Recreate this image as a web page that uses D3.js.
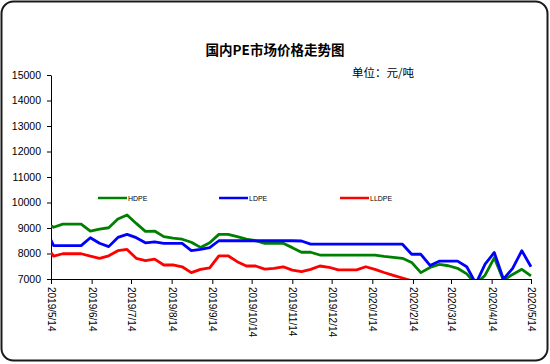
<!DOCTYPE html>
<html><head><meta charset="utf-8">
<script src="https://cdn.jsdelivr.net/npm/d3@7"></script>
<style>body{margin:0;background:#fff}svg{display:block}</style>
</head><body><svg id="c" width="550" height="364"></svg>
<script>
const dates = ["2019-05-14","2019-05-16","2019-05-23","2019-05-30","2019-06-06","2019-06-13","2019-06-20","2019-06-27",
"2019-07-04","2019-07-11","2019-07-18","2019-07-25","2019-08-01","2019-08-08","2019-08-15","2019-08-22","2019-08-29",
"2019-09-05","2019-09-12","2019-09-19","2019-09-26","2019-10-03","2019-10-10","2019-10-17","2019-10-24","2019-10-31",
"2019-11-07","2019-11-14","2019-11-21","2019-11-28","2019-12-05","2019-12-12","2019-12-19","2019-12-26",
"2020-01-02","2020-01-09","2020-01-16","2020-01-23","2020-01-30","2020-02-06","2020-02-13","2020-02-20","2020-02-27",
"2020-03-05","2020-03-12","2020-03-19","2020-03-26","2020-04-02","2020-04-09","2020-04-16","2020-04-23","2020-04-30",
"2020-05-07","2020-05-14"];
const hdpe = [9090,9030,9150,9150,9150,8880,8960,9010,9350,9510,9180,8870,8880,8660,8600,8560,8440,8240,8420,8750,
8750,8660,8560,8500,8400,8400,8400,8230,8050,8050,7940,7940,7940,7940,7940,7940,7940,7890,7850,7810,7650,7250,7450,
7570,7520,7420,7200,6800,7150,7830,6950,7180,7380,7120];
const ldpe = [8530,8310,8310,8310,8310,8620,8400,8270,8630,8750,8620,8420,8460,8400,8400,8400,8110,8165,8230,8500,
8500,8500,8500,8500,8500,8500,8500,8500,8490,8365,8365,8365,8365,8365,8365,8365,8365,8365,8365,8365,7970,7970,7530,
7700,7700,7700,7480,6820,7580,8040,6990,7420,8110,7480];
const lldpe = [8030,7900,7990,7990,7990,7895,7810,7910,8110,8160,7810,7720,7780,7550,7550,7480,7250,7380,7440,7910,
7910,7680,7510,7510,7390,7420,7480,7350,7290,7380,7510,7460,7360,7360,7360,7480,7380,7255,7145,7040,6930,
null,null,null,null,null,null,null,null,null,null,null,null,null];
const xTickLabels = ["2019/5/14","2019/6/14","2019/7/14","2019/8/14","2019/9/14","2019/10/14","2019/11/14",
"2019/12/14","2020/1/14","2020/2/14","2020/3/14","2020/4/14","2020/5/14"];
const yTicks = [7000,8000,9000,10000,11000,12000,13000,14000,15000];
const seriesNames = ["HDPE","LDPE","LLDPE"];
const seriesColors = ["#008000","#0000ff","#ff0000"];
const title = "国内PE市场价格走势图";
const unitLabel = "单位：元/吨";

const svg = d3.select("#c");
const L = 51, R = 531, T = 75, B = 279;
const parseD = d3.timeParse("%Y-%m-%d");
const parseT = d3.timeParse("%Y/%m/%d");
const tickDates = xTickLabels.map(parseT);
const x = d3.scaleTime().domain([tickDates[0], tickDates[tickDates.length-1]]).range([L, R]);
const y = d3.scaleLinear().domain([7000, 15000]).range([B, T]);

svg.append("rect").attr("x",1.5).attr("y",1.5).attr("width",546).attr("height",359)
  .attr("rx",12).attr("fill","#fff").attr("stroke","#1a1a1a").attr("stroke-width",2);

svg.append("text").attr("x",275).attr("y",55).attr("text-anchor","middle")
  .attr("font-family","'Noto Sans CJK SC'").attr("font-weight","bold").attr("font-size",13.5)
  .attr("fill","#000").text(title);
svg.append("text").attr("x",352).attr("y",77)
  .attr("font-family","'Noto Sans CJK SC'").attr("font-size",11.5).attr("fill","#000").text(unitLabel);

svg.append("defs").append("clipPath").attr("id","pc").append("rect")
  .attr("x",L).attr("y",T-5).attr("width",R-L+5).attr("height",B-T+5);

const yAxis = svg.append("g").attr("transform",`translate(${L},0)`)
  .call(d3.axisLeft(y).tickValues(yTicks).tickFormat(d3.format("d")).tickSize(4).tickSizeOuter(0).tickPadding(6));
yAxis.selectAll("text").attr("font-family","'Liberation Sans'").attr("font-size",10.5).attr("fill","#000");
yAxis.selectAll("line,path").attr("stroke","#000");

const xAxis = svg.append("g").attr("transform",`translate(0,${B})`)
  .call(d3.axisBottom(x).tickValues(tickDates).tickFormat((d,i)=>xTickLabels[i]).tickSize(5).tickSizeOuter(0));
xAxis.selectAll("text").attr("font-family","'Liberation Sans'").attr("font-size",10).attr("fill","#000")
  .attr("transform","rotate(90)").attr("text-anchor","start").attr("x",8).attr("y",0).attr("dy","0.35em");
xAxis.selectAll("line,path").attr("stroke","#000");

const allSeries = [hdpe, ldpe, lldpe];
const g = svg.append("g").attr("clip-path","url(#pc)");
const line = d3.line().defined(d=>d[1]!=null).x(d=>x(parseD(d[0]))).y(d=>y(d[1]));
allSeries.forEach((s,i)=>{
  g.append("path").datum(dates.map((d,j)=>[d,s[j]]))
    .attr("d",line).attr("fill","none").attr("stroke",seriesColors[i])
    .attr("stroke-width",2.8).attr("stroke-linejoin","round");
});
svg.append("line").attr("x1",L).attr("x2",R).attr("y1",B+0.5).attr("y2",B+0.5).attr("stroke","#000");

const legendX = [98, 219, 340];
const lg = svg.append("g");
seriesNames.forEach((n,i)=>{
  lg.append("line").attr("x1",legendX[i]).attr("x2",legendX[i]+29).attr("y1",198).attr("y2",198)
    .attr("stroke",seriesColors[i]).attr("stroke-width",2.5);
  lg.append("text").attr("x",legendX[i]+30).attr("y",200.5).attr("font-family","'Liberation Sans'")
    .attr("font-size",7).attr("fill","#000").text(n);
});
</script></body></html>
